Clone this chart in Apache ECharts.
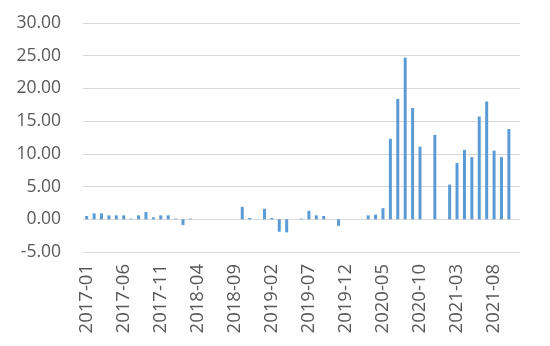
<!DOCTYPE html>
<html>
<head>
<meta charset="utf-8">
<script src="https://cdn.jsdelivr.net/npm/echarts@6/dist/echarts.min.js"></script>
<style>
html,body{margin:0;padding:0;background:#fff;}
#chart{width:550px;height:346px;}
</style>
</head>
<body>
<div id="chart"></div>
<script>
// Categories: monthly 2017-01 .. 2021-11
var categories = [
  '2017-01','2017-02','2017-03','2017-04','2017-05','2017-06','2017-07','2017-08','2017-09','2017-10','2017-11','2017-12',
  '2018-01','2018-02','2018-03','2018-04','2018-05','2018-06','2018-07','2018-08','2018-09','2018-10','2018-11','2018-12',
  '2019-01','2019-02','2019-03','2019-04','2019-05','2019-06','2019-07','2019-08','2019-09','2019-10','2019-11','2019-12',
  '2020-01','2020-02','2020-03','2020-04','2020-05','2020-06','2020-07','2020-08','2020-09','2020-10','2020-11','2020-12',
  '2021-01','2021-02','2021-03','2021-04','2021-05','2021-06','2021-07','2021-08','2021-09','2021-10','2021-11'
];
var values = [
  0.5, 0.9, 0.9, 0.6, 0.6, 0.6, 0.1, 0.6, 1.1, 0.3, 0.6, 0.6,
  0.1, -0.9, 0.1, 0, 0, 0, 0, 0, 0, 1.9, 0.2, 0,
  1.6, 0.2, -1.9, -2.0, 0, 0.1, 1.3, 0.6, 0.5, 0, -1.0, 0,
  0, 0, 0.6, 0.7, 1.7, 12.3, 18.4, 24.7, 17.0, 11.1, 0, 12.9,
  0, 5.3, 8.6, 10.6, 9.5, 15.7, 18.0, 10.5, 9.5, 13.8, null
];
var yMin = -5, yMax = 30, yStep = 5;

var chart = echarts.init(document.getElementById('chart'), null, {renderer: 'canvas'});
chart.setOption({
  animation: false,
  grid: {left: 83, right: 30, top: 23, bottom: 94, containLabel: false},
  xAxis: {
    type: 'category',
    data: categories,
    boundaryGap: true,
    axisLine: {show: false, onZero: false},
    axisTick: {show: false},
    axisLabel: {
      interval: 4,
      rotate: 90,
      margin: 12,
      color: '#595959',
      fontSize: 18.5,
      fontFamily: 'Open Sans'
    },
    splitLine: {show: false}
  },
  yAxis: {
    type: 'value',
    min: yMin,
    max: yMax,
    interval: yStep,
    axisLine: {show: false},
    axisTick: {show: false},
    axisLabel: {
      margin: 22,
      color: '#595959',
      fontSize: 17.5,
      fontFamily: 'Open Sans',
      formatter: function (v) { return v.toFixed(2); }
    },
    splitLine: {show: true, lineStyle: {color: '#d9d9d9', width: 1}}
  },
  series: [{
    type: 'bar',
    data: values,
    barWidth: 3,
    itemStyle: {color: '#5b9bd5'}
  }]
});
</script>
</body>
</html>
